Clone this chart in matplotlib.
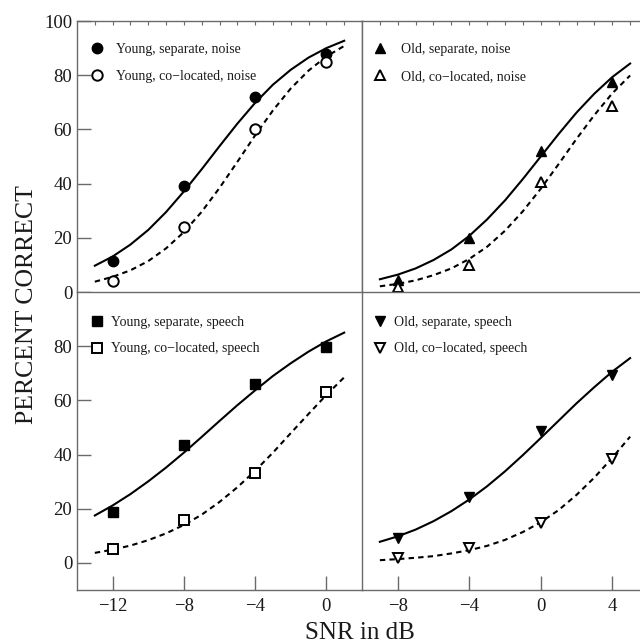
import matplotlib
matplotlib.use("Agg")
import matplotlib.pyplot as plt

# ==========================
# Data
# ==========================

snr_young = [-12, -8, -4, 0]
snr_old = [-8, -4, 0, 4]

young_sep_noise = [11.5, 39, 72, 88]
young_col_noise = [4, 24, 60, 85]
old_sep_noise = [4.5, 20, 52, 77.5]
old_col_noise = [2, 10, 40.5, 68.5]

young_sep_speech = [18.7, 43.4, 66.1, 79.6]
young_col_speech = [5.3, 16, 33.2, 63]
old_sep_speech = [9.2, 24.4, 48.6, 69.2]
old_col_speech = [1.8, 5.5, 14.8, 38.2]

# fitted curves, read every 1 dB
curve_x_young = [-13, -12, -11, -10, -9, -8, -7, -6, -5, -4, -3, -2, -1, 0, 1]
curve_x_old = [-9, -8, -7, -6, -5, -4, -3, -2, -1, 0, 1, 2, 3, 4, 5]

fit_young_sep_noise = [9.7, 13.1, 17.5, 22.9, 29.5, 37.1, 45.3, 53.8, 62.1, 69.8, 76.5, 82.0, 86.5, 90.0, 92.7]
fit_young_col_noise = [3.8, 5.6, 8.0, 11.4, 16.1, 22.1, 29.6, 38.4, 48.0, 57.8, 67.0, 75.1, 81.7, 86.9, 90.8]
fit_old_sep_noise = [4.7, 6.4, 8.7, 11.8, 15.7, 20.7, 26.8, 33.8, 41.7, 50.0, 58.3, 66.2, 73.2, 79.3, 84.3]
fit_old_col_noise = [2.1, 3.0, 4.3, 6.2, 8.7, 12.2, 16.7, 22.6, 29.8, 38.1, 47.2, 56.5, 65.3, 73.3, 79.9]

fit_young_sep_speech = [17.5, 21.2, 25.4, 30.1, 35.2, 40.7, 46.5, 52.4, 58.2, 63.7, 69.0, 73.7, 78.0, 81.8, 85.0]
fit_young_col_speech = [3.7, 4.9, 6.4, 8.4, 10.9, 14.0, 17.8, 22.5, 27.9, 34.0, 40.7, 47.9, 55.0, 62.0, 68.5]
fit_old_sep_speech = [7.8, 9.8, 12.3, 15.4, 19.1, 23.4, 28.3, 33.8, 39.8, 46.1, 52.5, 58.9, 64.9, 70.6, 75.6]
fit_old_col_speech = [1.0, 1.4, 1.9, 2.5, 3.5, 4.7, 6.3, 8.5, 11.4, 15.0, 19.5, 25.1, 31.5, 38.8, 46.6]

# ==========================
# Style
# ==========================

plt.rcParams['font.family'] = ['Liberation Serif', 'DejaVu Serif']
SPINE = '#6a6a6a'
TXT = '#1a1a1a'
DASH = (0, (2.6, 2.0))

fig = plt.figure(figsize=(6.4, 6.44), dpi=100)

W, H = 640.0, 644.0
left_x, mid_x, right_x = 77, 362, 648
top_y, mid_y, bot_y = 21, 292, 590

def px_axes(x0, x1, y0, y1):
    return fig.add_axes([x0 / W, 1 - y1 / H, (x1 - x0) / W, (y1 - y0) / H])

ax_tl = px_axes(left_x, mid_x, top_y, mid_y)
ax_tr = px_axes(mid_x, right_x, top_y, mid_y)
ax_bl = px_axes(left_x, mid_x, mid_y, bot_y)
ax_br = px_axes(mid_x, right_x, mid_y, bot_y)

panels = [
    (ax_tl, snr_young, curve_x_young,
     (young_sep_noise, fit_young_sep_noise, 'o', 'Young, separate, noise', 7.5),
     (young_col_noise, fit_young_col_noise, 'o', 'Young, co\u2212located, noise', 7.5)),
    (ax_tr, snr_old, curve_x_old,
     (old_sep_noise, fit_old_sep_noise, '^', 'Old, separate, noise', 7.5),
     (old_col_noise, fit_old_col_noise, '^', 'Old, co\u2212located, noise', 7.5)),
    (ax_bl, snr_young, curve_x_young,
     (young_sep_speech, fit_young_sep_speech, 's', 'Young, separate, speech', 6.5),
     (young_col_speech, fit_young_col_speech, 's', 'Young, co\u2212located, speech', 6.5)),
    (ax_br, snr_old, curve_x_old,
     (old_sep_speech, fit_old_sep_speech, 'v', 'Old, separate, speech', 7.5),
     (old_col_speech, fit_old_col_speech, 'v', 'Old, co\u2212located, speech', 7.5)),
]

# ==========================
# Draw panels
# ==========================

for ax, xs, cx, sep, col in panels:

    ax.plot(cx, sep[1], color='black', lw=1.5, zorder=2)
    ax.plot(cx, col[1], color='black', lw=1.5, ls=DASH, zorder=2)

    ax.plot(xs, sep[0], ls='none', marker=sep[2], ms=sep[4],
            mfc='black', mec='black', label=sep[3], zorder=3)
    ax.plot(xs, col[0], ls='none', marker=col[2], ms=col[4],
            mfc='white', mec='black', mew=1.4, label=col[3], zorder=3)

    for s in ax.spines.values():
        s.set_color(SPINE)
        s.set_linewidth(1.0)

    ax.tick_params(direction='in', colors=SPINE, labelcolor=TXT,
                   labelsize=13.5, length=10, width=1.0)

# x limits
ax_tl.set_xlim(-14, 2)
ax_bl.set_xlim(-14, 2)
ax_tr.set_xlim(-10, 6)
ax_br.set_xlim(-10, 6)

# y limits
ax_tl.set_ylim(0, 100)
ax_tr.set_ylim(0, 100)
ax_bl.set_ylim(-10, 100)
ax_br.set_ylim(-10, 100)

# ticks
ax_tl.set_yticks([0, 20, 40, 60, 80, 100])
ax_bl.set_yticks([0, 20, 40, 60, 80])
ax_tr.set_yticks([])
ax_br.set_yticks([])

ax_bl.set_xticks([-12, -8, -4, 0])
ax_bl.set_xticklabels(['\u221212', '\u22128', '\u22124', '0'])
ax_br.set_xticks([-8, -4, 0, 4])
ax_br.set_xticklabels(['\u22128', '\u22124', '0', '4'])

for ax in [ax_tl, ax_tr]:
    lo, hi = ax.get_xlim()
    ax.set_xticks(range(int(lo) + 1, int(hi)))
    ax.tick_params(axis='x', bottom=False, labelbottom=False, top=True,
                   length=3, width=0.8)
    ax.spines['bottom'].set_visible(False)

for ax in [ax_tr, ax_br]:
    ax.spines['right'].set_visible(False)

ax_bl.spines['right'].set_visible(False)
ax_bl.tick_params(axis='x', pad=6)
ax_br.tick_params(axis='x', pad=6)

# ==========================
# Legends
# ==========================

# anchor x, anchor y, handle length, text pad
leg_pos = [
    (ax_tl, 0.046, 0.918, 1.0, 0.86),
    (ax_tr, 0.040, 0.918, 1.0, 0.98),
    (ax_bl, 0.055, 0.921, 0.6, 0.72),
    (ax_br, 0.048, 0.921, 0.6, 0.71),
]

for ax, bx, by, hl, pad in leg_pos:
    ax.legend(loc='upper left', bbox_to_anchor=(bx, by), frameon=False,
              fontsize=10, borderaxespad=0.0, borderpad=0.0,
              handlelength=hl, handletextpad=pad, labelspacing=1.0,
              labelcolor=TXT)

# ==========================
# Axis titles
# ==========================

fig.text(27 / W, 1 - 305 / H, 'PERCENT CORRECT', rotation=90,
         ha='center', va='center', fontsize=18.5, color=TXT)
fig.text(360 / W, 1 - 633 / H, 'SNR in dB', ha='center', va='center',
         fontsize=18, color=TXT)

plt.savefig('out.png', dpi=100)
